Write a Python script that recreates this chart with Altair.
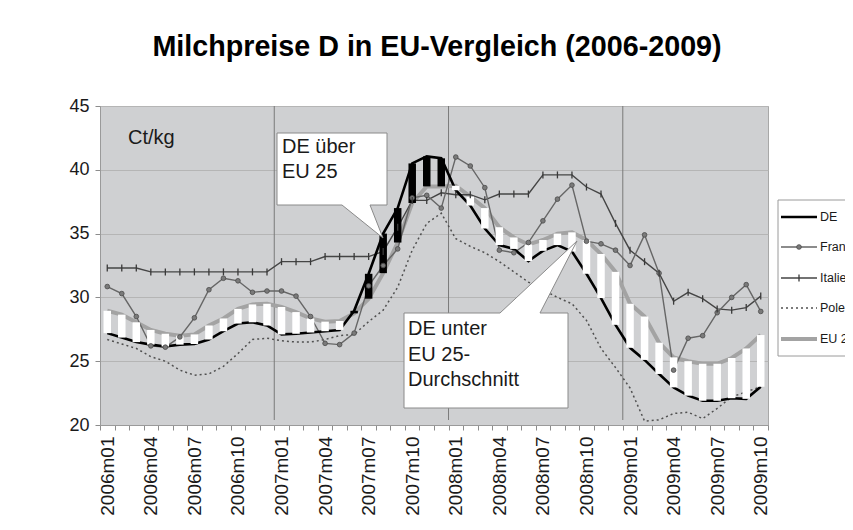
import altair as alt
import pandas as pd

# ---------------- data ----------------
months = [
    "2006m01", "2006m02", "2006m03", "2006m04", "2006m05", "2006m06",
    "2006m07", "2006m08", "2006m09", "2006m10", "2006m11", "2006m12",
    "2007m01", "2007m02", "2007m03", "2007m04", "2007m05", "2007m06",
    "2007m07", "2007m08", "2007m09", "2007m10", "2007m11", "2007m12",
    "2008m01", "2008m02", "2008m03", "2008m04", "2008m05", "2008m06",
    "2008m07", "2008m08", "2008m09", "2008m10", "2008m11", "2008m12",
    "2009m01", "2009m02", "2009m03", "2009m04", "2009m05", "2009m06",
    "2009m07", "2009m08", "2009m09", "2009m10",
]
de = [27.2, 26.85, 26.5, 26.3, 26.15, 26.3, 26.35, 26.7, 27.35, 27.95, 28.05, 27.8,
      27.1, 27.15, 27.25, 27.35, 27.45, 28.95, 31.85, 35.0, 37.0, 40.5, 41.05, 40.9,
      38.4, 37.2, 35.4, 34.1, 33.8, 32.85, 33.65, 34.1, 33.6, 31.85, 29.95, 27.85,
      26.05, 25.1, 24.0, 22.95, 22.3, 21.9, 21.9, 22.1, 22.05, 23.0]
frankreich = [30.85, 30.3, 28.5, 26.2, 26.1, 26.9, 28.4, 30.6, 31.5, 31.3, 30.4, 30.5,
              30.5, 30.1, 28.5, 26.4, 26.3, 27.2, 30.9, 32.5, 33.8, 37.8, 38.0, 37.0,
              41.0, 40.3, 38.6, 33.7, 33.5, 34.3, 36.0, 37.7, 38.8, 34.4, 34.2, 33.7,
              32.5, 34.9, 31.9, 24.3, 26.8, 27.0, 28.8, 30.0, 31.0, 28.9]
italien = [32.3, 32.3, 32.3, 32.0, 32.0, 32.0, 32.0, 32.0, 32.0, 32.0, 32.0, 32.0,
           32.8, 32.8, 32.8, 33.2, 33.2, 33.2, 33.2, 33.6, 35.5, 37.6, 37.6, 38.2,
           38.05, 38.05, 37.65, 38.1, 38.1, 38.1, 39.6, 39.6, 39.6, 38.65, 38.1, 35.8,
           33.7, 32.8, 31.9, 29.7, 30.4, 29.9, 29.1, 29.0, 29.2, 30.1]
polen = [26.7, 26.35, 26.0, 25.35, 25.0, 24.3, 23.9, 24.0, 24.6, 25.6, 26.7, 26.8,
         26.6, 26.5, 26.5, 26.7, 27.0, 27.1, 28.1, 29.0, 30.8, 33.7, 35.8, 36.6,
         34.6, 34.0, 33.5, 32.8, 32.0, 31.2, 30.6, 30.0, 29.5, 28.2, 26.0, 24.5,
         22.9, 20.3, 20.4, 20.9, 21.0, 20.5, 21.3, 22.2, 22.6, 23.0]
eu25 = [28.95, 28.65, 28.05, 27.45, 27.15, 27.0, 27.1, 27.8, 28.35, 29.1, 29.45, 29.5,
        29.25, 28.85, 28.35, 28.1, 28.15, 28.75, 29.9, 31.9, 34.3, 37.4, 38.7, 38.7,
        38.75, 37.9, 37.0, 35.5, 34.7, 34.15, 34.5, 35.0, 35.1, 34.5, 33.4, 32.0,
        29.5, 28.5, 26.45, 25.3, 25.0, 24.8, 24.8, 25.25, 26.0, 27.05]

series = ["DE", "Frankreich", "Italien", "Polen", "EU 25"]
year_starts = ["2007m01", "2008m01", "2009m01"]
y_ticks = [20, 25, 30, 35, 40, 45]
title_text = "Milchpreise D in EU-Vergleich (2006-2009)"
unit_label = "Ct/kg"
callout_up = ["DE über", "EU 25"]
callout_down = ["DE unter", "EU 25-", "Durchschnitt"]

# ---------------- layout ----------------
W, H = 668, 319
BAND = W / len(months)
FONT = "Liberation Sans"

df = pd.DataFrame({"month": months, "DE": de, "FR": frankreich, "IT": italien,
                   "PL": polen, "EU": eu25})
df["dir"] = ["up" if d > e else "down" for d, e in zip(de, eu25)]

xs = alt.Scale(type="band", domain=months, paddingInner=0, paddingOuter=0)
ys = alt.Scale(domain=[20, 45], nice=False, zero=False)

label_expr = ("isString(datum.value) && indexof(['01','04','07','10'], "
              "slice(datum.value, 5)) >= 0 ? datum.value : ''")
x_axis = alt.Axis(title=None, tickBand="extent", labelAngle=270, labelExpr=label_expr,
                  labelOverlap=False, labelFontSize=19, labelColor="#1a1a1a",
                  labelPadding=6, tickSize=5, tickColor="#8c8c8c",
                  domainColor="#9a9a9a", grid=False)
y_axis = alt.Axis(title=None, values=y_ticks, grid=True, gridColor="#b5b5b5",
                  tickSize=5, tickColor="#8c8c8c", domainColor="#9a9a9a",
                  labelFontSize=18, labelColor="#1a1a1a", labelPadding=6)

X = alt.X("month:N", scale=xs, axis=x_axis)


def Y(col):
    return alt.Y(f"{col}:Q", scale=ys, axis=y_axis)


base = alt.Chart(df)

vrules = alt.Chart(pd.DataFrame({"month": year_starts})).mark_rule(
    color="#7a7a7a", strokeWidth=1, xOffset=-BAND / 2
).encode(x=X, y=alt.value(0), y2=alt.value(H - 5))

line_eu = base.mark_line(color="#a3a3a3", strokeWidth=4).encode(x=X, y=Y("EU"))
line_pl = base.mark_line(color="#505050", strokeWidth=1.5, strokeDash=[2, 3]).encode(x=X, y=Y("PL"))
line_it = base.mark_line(color="#454545", strokeWidth=1.4).encode(x=X, y=Y("IT"))
line_fr = base.mark_line(color="#666666", strokeWidth=1.4).encode(x=X, y=Y("FR"))
line_de = base.mark_line(color="black", strokeWidth=2.6).encode(x=X, y=Y("DE"))

bars = base.mark_bar(size=7.5, strokeWidth=0).encode(
    x=X, y=Y("DE"), y2="EU:Q",
    color=alt.Color("dir:N", scale=alt.Scale(domain=["up", "down"], range=["black", "white"]),
                    legend=None),
)

pts_fr = base.mark_point(shape="circle", filled=True, size=22, fill="#7a7a7a",
                         stroke="#4a4a4a", strokeWidth=0.8, opacity=1).encode(x=X, y=Y("FR"))
pts_it = base.mark_point(shape="M0,-1L0,1", size=49, filled=False, stroke="#3a3a3a",
                         strokeWidth=1.3, opacity=1).encode(x=X, y=Y("IT"))

one = pd.DataFrame({"k": [0]})
path_up = "M177,27 L287,27 L287,99 L270,99 L283,132 L242,99 L177,99 Z"
path_down = "M304,207 L400,207 L477,135 L440,207 L468,207 L468,302 L304,302 Z"


def callout(path):
    return alt.Chart(one).mark_point(shape=path, size=4, filled=True, fill="white",
                                     stroke="#8a8a8a", strokeWidth=1, opacity=1).encode(
        x=alt.value(0), y=alt.value(0))


def box(x1, y1, x2, y2, fill="white", stroke="#8a8a8a"):
    return alt.Chart(one).mark_rect(fill=fill, stroke=stroke, strokeWidth=1).encode(
        x=alt.value(x1), x2=alt.value(x2), y=alt.value(y1), y2=alt.value(y2))


def label(txt, px, py, size=20, align="left", baseline="alphabetic"):
    return alt.Chart(one).mark_text(align=align, baseline=baseline, fontSize=size,
                                    font=FONT, color="#1a1a1a").encode(
        x=alt.value(px), y=alt.value(py), text=alt.value(txt))


annotations = [
    callout(path_up), callout(path_down),
    label(unit_label, 28, 38),
    label(callout_up[0], 182, 47), label(callout_up[1], 182, 72),
    label(callout_down[0], 308, 229), label(callout_down[1], 308, 255),
    label(callout_down[2], 308, 280),
]

# ---------------- legend (right, cut by the page edge as in the original) ----------------
leg_y = [111, 141, 172, 202, 233]


def leg_rule(i, **kw):
    return alt.Chart(one).mark_rule(**kw).encode(
        x=alt.value(681), x2=alt.value(717), y=alt.value(leg_y[i]))


legend = [
    box(678, 94, 840, 250, stroke="#9a9a9a"),
    leg_rule(0, color="black", strokeWidth=2.6),
    leg_rule(1, color="#666666", strokeWidth=1.4),
    leg_rule(2, color="#454545", strokeWidth=1.4),
    leg_rule(3, color="#505050", strokeWidth=1.5, strokeDash=[2, 3]),
    leg_rule(4, color="#a3a3a3", strokeWidth=4),
    alt.Chart(one).mark_point(shape="circle", filled=True, size=22, fill="#7a7a7a",
                              stroke="#4a4a4a", strokeWidth=0.8, opacity=1).encode(
        x=alt.value(699), y=alt.value(leg_y[1])),
    alt.Chart(one).mark_point(shape="M0,-1L0,1", size=49, filled=False, stroke="#3a3a3a",
                              strokeWidth=1.3, opacity=1).encode(
        x=alt.value(699), y=alt.value(leg_y[2])),
] + [label(series[i], 720, leg_y[i], size=12.5, baseline="middle") for i in range(5)]

chart = alt.layer(
    vrules, line_eu, line_pl, line_it, line_fr, line_de, bars, pts_fr, pts_it,
    *annotations, *legend,
).properties(
    width=W, height=H,
    autosize=alt.AutoSizeParams(type="none"),
    padding={"left": 92, "top": 98, "right": 77, "bottom": 91},
    title=alt.TitleParams(text=title_text, fontSize=28.7, fontWeight="bold", font=FONT,
                          anchor="middle", frame="group", offset=35, dx=3, color="black"),
).configure(font=FONT).configure_view(fill="#cfd0d2", stroke="#a8a8a8", strokeWidth=1)

chart.save("out.html", embed_options={"renderer": "svg", "actions": False})
